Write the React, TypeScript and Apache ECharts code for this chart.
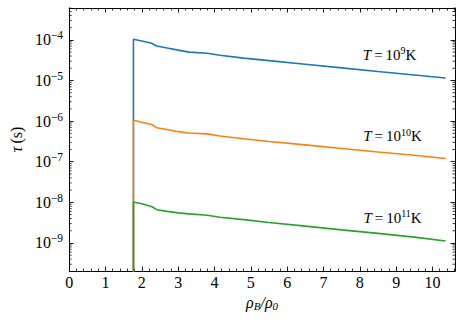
import React, { useEffect, useRef } from "react";
import * as echarts from "echarts";

const xValues = [1.77, 1.77, 2.0, 2.27, 2.41, 2.7, 3.0, 3.3, 3.8, 4.15, 4.8, 5.5, 6.5, 7.5, 8.5, 9.5, 10.36];
const tau1e9 = [1e-12, 1.04e-4, 9.4e-5, 8.3e-5, 7.1e-5, 6.3e-5, 5.6e-5, 5.0e-5, 4.7e-5, 4.2e-5, 3.55e-5, 3.08e-5, 2.51e-5, 2.05e-5, 1.67e-5, 1.37e-5, 1.15e-5];
const tau1e10 = [1e-12, 1.05e-6, 9.4e-7, 8.3e-7, 6.9e-7, 6.2e-7, 5.5e-7, 5.1e-7, 4.85e-7, 4.3e-7, 3.67e-7, 3.15e-7, 2.6e-7, 2.12e-7, 1.74e-7, 1.44e-7, 1.2e-7];
const tau1e11 = [1e-12, 1.02e-8, 9.2e-9, 7.9e-9, 6.6e-9, 6.0e-9, 5.5e-9, 5.2e-9, 4.8e-9, 4.3e-9, 3.76e-9, 3.2e-9, 2.6e-9, 2.1e-9, 1.72e-9, 1.39e-9, 1.12e-9];
const seriesNames = ["T=1e9K", "T=1e10K", "T=1e11K"];
const seriesColors = ["#1f77b4", "#ff7f0e", "#2ca02c"];
const annotExp = ["9", "10", "11"];
const annotX = [8.82, 8.9, 8.9];
const annotY = [4.3e-5, 4.2e-7, 4.2e-9];

const X_MIN = 0;
const X_MAX = 10.62;
const Y_MIN = 2.04e-10;
const Y_MAX = 6.1e-4;

const FONT = "'Liberation Serif', 'DejaVu Serif', serif";

export default function App() {
  const ref = useRef<HTMLDivElement>(null);
  useEffect(() => {
    if (!ref.current) return;
    const chart = echarts.init(ref.current, null, { renderer: "svg" });
    const allSeries = [tau1e9, tau1e10, tau1e11];
    const yLabelFormatter = (v: number) => {
      const l = Math.log10(v);
      const e = Math.round(l);
      if (Math.abs(l - e) > 0.01) return "";
      return "{a|10}{b|" + (e < 0 ? "\u2212" + -e : String(e)) + "}";
    };
    const yRich = {
      a: { fontFamily: FONT, fontSize: 16, color: "#000" },
      b: { fontFamily: FONT, fontSize: 11.5, color: "#000", verticalAlign: "bottom", padding: [0, 0, 9, 0] },
    };
    const lineSeries = allSeries.map((vals, i) => ({
      type: "line",
      name: seriesNames[i],
      data: xValues.map((x, j) => [x, vals[j]]),
      showSymbol: false,
      symbol: "none",
      clip: true,
      lineStyle: { color: seriesColors[i], width: 1.6 },
      itemStyle: { color: seriesColors[i] },
      markPoint: {
        symbol: "circle",
        symbolSize: 0,
        data: [
          {
            coord: [annotX[i], annotY[i]],
            label: {
              show: true,
              position: "inside",
              formatter: "{i|T}{n|\u2009=\u200910}{s|" + annotExp[i] + "}{n|K}",
              rich: {
                i: { fontFamily: FONT, fontStyle: "italic", fontSize: 15, color: "#000" },
                n: { fontFamily: FONT, fontSize: 15, color: "#000" },
                s: { fontFamily: FONT, fontSize: 10, color: "#000", verticalAlign: "bottom", padding: [0, 0, 8, 0] },
              },
            },
          },
        ],
      },
    }));
    const minorTicks = {
      type: "custom",
      silent: true,
      clip: false,
      data: [[1, 1e-6]],
      renderItem: (_params: any, api: any) => {
        const children: any[] = [];
        for (let e = -11; e <= -3; e++) {
          for (let k = 2; k <= 9; k++) {
            const v = k * Math.pow(10, e);
            if (v <= Y_MIN || v >= Y_MAX) continue;
            const p = api.coord([X_MIN, v]);
            const q = api.coord([X_MAX, v]);
            children.push({
              type: "line",
              shape: { x1: p[0], y1: p[1], x2: p[0] + 2.5, y2: p[1] },
              style: { stroke: "#000", lineWidth: 0.8 },
            });
            children.push({
              type: "line",
              shape: { x1: q[0], y1: q[1], x2: q[0] - 2.5, y2: q[1] },
              style: { stroke: "#000", lineWidth: 0.8 },
            });
          }
        }
        return { type: "group", children };
      },
    };
    const xAxisCommon = {
      type: "value",
      min: X_MIN,
      max: X_MAX,
      interval: 1,
      splitLine: { show: false },
      axisLine: { show: true, onZero: false, lineStyle: { color: "#000", width: 1 } },
      axisTick: { show: true, inside: true, length: 4.5, lineStyle: { color: "#000", width: 0.9 } },
      minorTick: { show: true, splitNumber: 5, length: 2.5, lineStyle: { color: "#000", width: 0.8 } },
      minorSplitLine: { show: false },
    };
    const yAxisCommon = {
      type: "log",
      logBase: 10,
      min: Y_MIN,
      max: Y_MAX,
      splitLine: { show: false },
      axisLine: { show: true, onZero: false, lineStyle: { color: "#000", width: 1 } },
      axisTick: { show: true, inside: true, length: 4.5, lineStyle: { color: "#000", width: 0.9 } },
      minorTick: { show: false },
    };
    chart.setOption({
      animation: false,
      backgroundColor: "#fff",
      textStyle: { fontFamily: FONT },
      grid: { left: 67, right: 8, top: 8, bottom: 52, containLabel: false },
      xAxis: [
        {
          ...xAxisCommon,
          position: "bottom",
          axisLabel: {
            show: true,
            margin: 3,
            fontFamily: FONT,
            fontSize: 16,
            color: "#000",
            showMaxLabel: false,
            formatter: (v: number) => (Math.abs(v - Math.round(v)) < 1e-6 ? String(Math.round(v)) : ""),
          },
          name: "{r|\u03C1}{sub|B}{r|/\u03C1}{sub|0}",
          nameLocation: "middle",
          nameGap: 22,
          nameTextStyle: {
            fontFamily: FONT,
            rich: {
              r: { fontFamily: FONT, fontStyle: "italic", fontSize: 16, color: "#000" },
              sub: { fontFamily: FONT, fontStyle: "italic", fontSize: 11, color: "#000", verticalAlign: "top", padding: [7, 0, 0, 0] },
            },
          },
        },
        {
          ...xAxisCommon,
          position: "top",
          axisLabel: { show: false },
        },
      ],
      yAxis: [
        {
          ...yAxisCommon,
          position: "left",
          axisLabel: {
            show: true,
            margin: 6,
            fontFamily: FONT,
            showMinLabel: false,
            showMaxLabel: false,
            formatter: yLabelFormatter,
            rich: yRich,
          },
          name: "{t|\u03C4} {p|(s)}",
          nameLocation: "middle",
          nameRotate: 90,
          nameGap: 42,
          nameTextStyle: {
            fontFamily: FONT,
            rich: {
              t: { fontFamily: FONT, fontStyle: "italic", fontSize: 16, color: "#000" },
              p: { fontFamily: FONT, fontSize: 16, color: "#000" },
            },
          },
        },
        {
          ...yAxisCommon,
          position: "right",
          axisLabel: { show: false },
        },
      ],
      series: [...lineSeries, minorTicks],
    });
    return () => chart.dispose();
  }, []);
  return (
    <div
      ref={ref}
      style={{ position: "absolute", left: 0, top: 0, width: 463, height: 323 }}
    />
  );
}
